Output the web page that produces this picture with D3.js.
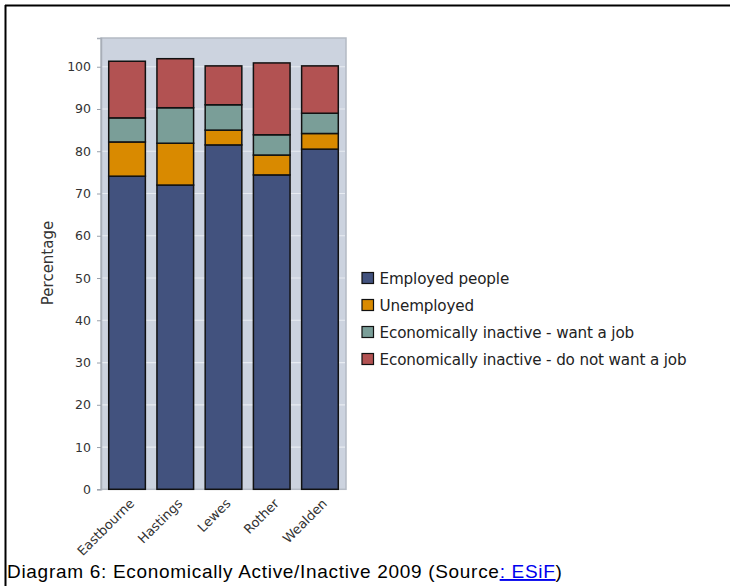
<!DOCTYPE html>
<html>
<head>
<meta charset="utf-8">
<script src="https://cdn.jsdelivr.net/npm/d3@7"></script>
<style>
  html, body { margin: 0; padding: 0; background: #fff; }
  svg { display: block; }
</style>
</head>
<body>
<svg id="chart" width="730" height="586"></svg>
<script>
// Districts of East Sussex
const districts = ["Eastbourne", "Hastings", "Lewes", "Rother", "Wealden"];

// Percentage of working-age population, 2009
const employed        = [74.1, 72.0, 81.5, 74.4, 80.5];
const unemployed      = [8.1, 9.9, 3.5, 4.7, 3.7];
const inactiveWant    = [5.7, 8.4, 6.0, 4.8, 4.8];
const inactiveNotWant = [13.4, 11.6, 9.2, 17.0, 11.2];

const seriesNames = [
  "Employed people",
  "Unemployed",
  "Economically inactive - want a job",
  "Economically inactive - do not want a job"
];
const seriesColors = ["#42527e", "#d98a00", "#7a9e98", "#b25252"];
const yTicks = [0, 10, 20, 30, 40, 50, 60, 70, 80, 90, 100];

const rows = districts.map((d, i) => ({
  district: d,
  s0: employed[i],
  s1: unemployed[i],
  s2: inactiveWant[i],
  s3: inactiveNotWant[i]
}));
const keys = ["s0", "s1", "s2", "s3"];
const stacked = d3.stack().keys(keys)(rows);

const svg = d3.select("#chart");

// page frame (top and left rules)
svg.append("line").attr("x1", 5).attr("x2", 730).attr("y1", 5.5).attr("y2", 5.5)
  .attr("stroke", "#000").attr("stroke-width", 2);
svg.append("line").attr("x1", 5.5).attr("x2", 5.5).attr("y1", 5).attr("y2", 586)
  .attr("stroke", "#000").attr("stroke-width", 2);

const plot = { left: 101, right: 346, top: 38, bottom: 489.3 };

const x = d3.scaleBand()
  .domain(districts)
  .range([plot.left, plot.right])
  .paddingInner(0.24)
  .paddingOuter(0.16);

const y = d3.scaleLinear()
  .domain([0, 106.8])
  .range([plot.bottom, plot.top]);

// plot background
svg.append("rect")
  .attr("x", plot.left).attr("y", plot.top)
  .attr("width", plot.right - plot.left).attr("height", plot.bottom - plot.top)
  .attr("fill", "#ccd3df")
  .attr("stroke", "#b4bac4").attr("stroke-width", 1.5);

// gridlines
svg.append("g")
  .selectAll("line")
  .data(yTicks.filter(t => t > 0))
  .join("line")
  .attr("x1", plot.left + 1).attr("x2", plot.right - 1)
  .attr("y1", d => y(d)).attr("y2", d => y(d))
  .attr("stroke", "#e8ecf2").attr("stroke-width", 1.2);

// y axis
const yAxis = svg.append("g")
  .attr("transform", `translate(${plot.left},0)`)
  .call(d3.axisLeft(y).tickValues(yTicks).tickSize(4).tickPadding(6));
yAxis.select(".domain").attr("stroke", "#a8aeb8").attr("stroke-width", 1.5);
yAxis.selectAll(".tick line").attr("stroke", "#9aa0aa");
yAxis.selectAll(".tick text")
  .attr("fill", "#333")
  .style("font-family", "'DejaVu Sans', sans-serif")
  .style("font-size", "12.5px");

// y axis title
svg.append("text")
  .attr("transform", `translate(53,${(219 + 307) / 2}) rotate(-90)`)
  .attr("text-anchor", "middle")
  .attr("fill", "#333")
  .style("font-family", "'DejaVu Sans', sans-serif")
  .style("font-size", "15px")
  .text("Percentage");

// stacked bars
svg.append("g")
  .selectAll("g")
  .data(stacked)
  .join("g")
  .attr("fill", (d, i) => seriesColors[i])
  .selectAll("rect")
  .data(d => d)
  .join("rect")
  .attr("x", d => x(d.data.district))
  .attr("y", d => y(d[1]))
  .attr("width", x.bandwidth())
  .attr("height", d => y(d[0]) - y(d[1]))
  .attr("stroke", "#111")
  .attr("stroke-width", 1.5);

// x labels
const xAxis = svg.append("g")
  .attr("transform", `translate(0,${plot.bottom})`)
  .call(d3.axisBottom(x).tickSize(0).tickPadding(0));
xAxis.select(".domain").remove();
xAxis.selectAll(".tick text")
  .attr("text-anchor", "end")
  .attr("dy", null)
  .attr("transform", "translate(8,15) rotate(-45)")
  .attr("fill", "#333")
  .style("font-family", "'DejaVu Sans', sans-serif")
  .style("font-size", "13px");

// legend
const legend = svg.append("g")
  .selectAll("g")
  .data(seriesNames)
  .join("g")
  .attr("transform", (d, i) => `translate(362,${272.5 + i * 27})`);
legend.append("rect")
  .attr("width", 11.5).attr("height", 11)
  .attr("fill", (d, i) => seriesColors[i])
  .attr("stroke", "#111").attr("stroke-width", 1.2);
legend.append("text")
  .attr("x", 17.5).attr("y", 11.5)
  .attr("fill", "#222")
  .style("font-family", "'DejaVu Sans', sans-serif")
  .style("font-size", "15.2px")
  .style("letter-spacing", "-0.15px")
  .text(d => d);

// caption
const caption = svg.append("text")
  .attr("x", 7).attr("y", 578)
  .attr("fill", "#000")
  .style("font-family", "'Liberation Sans', Arial, sans-serif")
  .style("font-size", "19px")
  .style("letter-spacing", "0.7px");
caption.append("tspan").text("Diagram 6: Economically Active/Inactive 2009 (Source");
caption.append("tspan").attr("fill", "#0000ee").attr("text-decoration", "underline").text(": ESiF");
caption.append("tspan").text(")");
</script>
</body>
</html>
